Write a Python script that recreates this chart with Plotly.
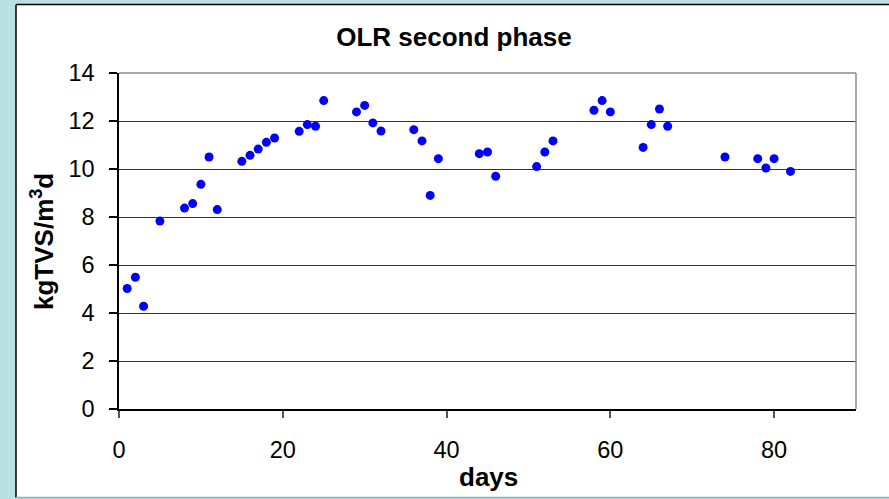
import plotly.graph_objects as go

# OLR measurements, second phase
days = [1, 2, 3, 5, 8, 9, 10, 11, 12, 15, 16, 17, 18, 19, 22, 23, 24, 25,
        29, 30, 31, 32, 36, 37, 38, 39, 44, 45, 46, 51, 52, 53, 58, 59, 60,
        64, 65, 66, 67, 74, 78, 79, 80, 82]
olr = [5.02, 5.49, 4.28, 7.83, 8.37, 8.56, 9.36, 10.5, 8.31, 10.32, 10.57,
       10.83, 11.11, 11.29, 11.57, 11.85, 11.78, 12.85, 12.38, 12.65, 11.92,
       11.58, 11.64, 11.17, 8.9, 10.43, 10.64, 10.71, 9.7, 10.1, 10.71,
       11.17, 12.45, 12.85, 12.38, 10.9, 11.85, 12.5, 11.78, 10.5, 10.43,
       10.04, 10.43, 9.9]

x_ticks = [0, 20, 40, 60, 80]
y_ticks = [0, 2, 4, 6, 8, 10, 12, 14]

FONT = "Liberation Sans, Arial, sans-serif"
BG = "#bbe0e3"
TICK_SIZE = 23.5
LABEL_SIZE = 26

fig = go.Figure(
    go.Scatter(
        x=days, y=olr, mode="markers",
        marker=dict(color="#0000ff", size=9, line=dict(width=0)),
        hoverinfo="x+y",
    )
)

# plot area geometry (pixels) used to place the white card behind everything
L, R, T, B = 119, 33, 73, 90
W, H = 889, 499
pw, ph = W - L - R, H - T - B

def px_x(p):
    return (p - L) / pw

def px_y(p):
    return (H - B - p) / ph

shapes = [
    # white card
    dict(type="rect", xref="paper", yref="paper", layer="below",
         x0=px_x(16), x1=px_x(895), y0=px_y(497.5), y1=px_y(4.5),
         fillcolor="white", line=dict(width=0)),
    dict(type="line", xref="paper", yref="paper", layer="below",
         x0=px_x(16), x1=px_x(16), y0=px_y(497.5), y1=px_y(4.5),
         line=dict(color="black", width=1.5)),
    dict(type="line", xref="paper", yref="paper", layer="below",
         x0=px_x(16), x1=px_x(895), y0=px_y(4.5), y1=px_y(4.5),
         line=dict(color="black", width=1.5)),
    dict(type="line", xref="paper", yref="paper", layer="below",
         x0=px_x(16), x1=px_x(895), y0=px_y(497.5), y1=px_y(497.5),
         line=dict(color="#a8a8a8", width=1.5)),
    # plot area frame, top and right
    dict(type="line", xref="paper", yref="paper", layer="above",
         x0=0, x1=1, y0=1, y1=1, line=dict(color="#8c8c8c", width=1.5)),
    dict(type="line", xref="paper", yref="paper", layer="above",
         x0=1, x1=1, y0=0, y1=1, line=dict(color="#8c8c8c", width=1.5)),
]

fig.update_layout(
    width=W, height=H,
    margin=dict(l=L, r=R, t=T, b=B),
    paper_bgcolor=BG,
    plot_bgcolor="white",
    showlegend=False,
    font=dict(family=FONT, color="black", size=TICK_SIZE),
    title=dict(text="<b>OLR second phase</b>", x=454 / W, xanchor="center",
               y=1 - 37 / H, yanchor="middle", yref="container",
               font=dict(size=LABEL_SIZE, family=FONT)),
    shapes=shapes,
    xaxis=dict(
        range=[0, 90], tickvals=x_ticks, ticks="outside", ticklen=7,
        tickcolor="#555", tickwidth=1.5, showgrid=False, zeroline=False,
        showline=True, linecolor="black", linewidth=1.5,
        ticklabelstandoff=12,
        tickfont=dict(size=TICK_SIZE),
    ),
    yaxis=dict(
        range=[0, 14], tickvals=y_ticks, ticks="outside", ticklen=8,
        tickcolor="black", tickwidth=1.5, showgrid=True, gridcolor="#333",
        gridwidth=1, zeroline=False, showline=True, linecolor="black",
        linewidth=1.5, ticklabelstandoff=10,
        tickfont=dict(size=TICK_SIZE),
    ),
    annotations=[
        dict(text="<b>days</b>", xref="paper", yref="paper",
             x=0.502, y=px_y(477), xanchor="center", yanchor="middle",
             showarrow=False, font=dict(size=LABEL_SIZE)),
        dict(text="<b>kgTVS/m<sup>3</sup>d</b>", xref="paper", yref="paper",
             x=px_x(42), y=px_y(242), xanchor="center", yanchor="middle",
             textangle=-90, showarrow=False, font=dict(size=LABEL_SIZE)),
    ],
)

fig.write_html("out.html")
